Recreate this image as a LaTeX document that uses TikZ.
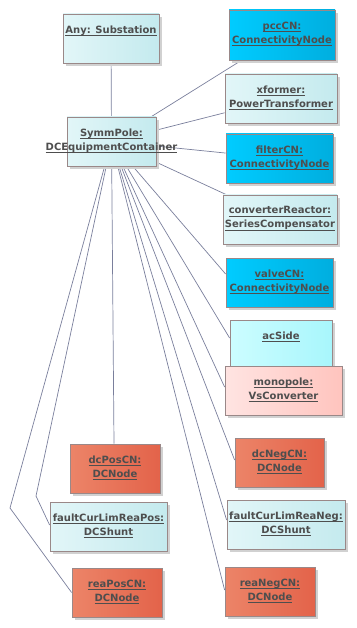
\documentclass[tikz,border=0pt]{standalone}
\usepackage{fontspec}
\setmainfont{DejaVu Sans}
\usetikzlibrary{shadows,backgrounds}

\definecolor{edge}{HTML}{9A8888}
\definecolor{wire}{HTML}{7A7F9C}
\definecolor{ink}{HTML}{4E4E4E}
\definecolor{paleL}{HTML}{E2F6F8}
\definecolor{paleR}{HTML}{C4EAEE}
\definecolor{cnL}{HTML}{00CCFF}
\definecolor{cnR}{HTML}{00AEDF}
\definecolor{aqL}{HTML}{CCFDFF}
\definecolor{aqR}{HTML}{A8F6FC}
\definecolor{pinkL}{HTML}{FFE4E2}
\definecolor{pinkR}{HTML}{FFC4BE}
\definecolor{dcL}{HTML}{EC8468}
\definecolor{dcR}{HTML}{E3634A}

% underlined object name, one line
\newcommand\uln[1]{\hbox{\setbox0\hbox{#1}\rlap{\rule[-2.4pt]{\wd0}{0.8pt}}\box0}}

\tikzset{
  obj/.style={rectangle, draw=edge, line width=0.8pt, inner sep=0pt,
    minimum height=49pt, left color=#1L, right color=#1R,
    drop shadow={shadow xshift=3pt, shadow yshift=-3pt, fill=black!18, opacity=1}},
  objtext/.style={text=ink, font=\fontsize{10}{14}\selectfont\bfseries,
    align=center, inner sep=0pt},
  oneline/.style={objtext, yshift=7.8pt},
  twoline/.style={objtext, yshift=1pt},
  link/.style={draw=wire, line width=0.7pt}
}

\begin{document}
\begin{tikzpicture}[x=1pt, y=-1pt]
\useasboundingbox (0,0) rectangle (356,628);

% objects
\node[obj=pale, minimum width=96pt] (Any) at (111,38.5) {};
\node[oneline] (Any-t) at (Any) {\uln{Any: Substation}};

\node[obj=cn, minimum width=106pt, minimum height=50pt] (pccCN) at (282,35) {};
\node[twoline] (pccCN-t) at (pccCN) {\uln{pccCN:}\\\uln{ConnectivityNode}};

\node[obj=pale, minimum width=112pt] (xformer) at (281,98.5) {};
\node[twoline] (xformer-t) at (xformer) {\uln{xformer:}\\\uln{PowerTransformer}};

\node[obj=pale, minimum width=89pt] (SymmPole) at (111.5,141.5) {};
\node[twoline] (SymmPole-t) at (SymmPole) {\uln{SymmPole:}\\\uln{DCEquipmentContainer}};

\node[obj=cn, minimum width=107pt] (filterCN) at (279.5,158.5) {};
\node[twoline] (filterCN-t) at (filterCN) {\uln{filterCN:}\\\uln{ConnectivityNode}};

\node[obj=pale, minimum width=114pt] (convReactor) at (280,219.5) {};
\node[twoline] (convReactor-t) at (convReactor) {\uln{converterReactor:}\\\uln{SeriesCompensator}};

\node[obj=cn, minimum width=107pt] (valveCN) at (279.5,282.5) {};
\node[twoline] (valveCN-t) at (valveCN) {\uln{valveCN:}\\\uln{ConnectivityNode}};

\node[obj=aq, minimum width=102pt] (acSide) at (281,344.5) {};
\node[oneline] (acSide-t) at (acSide) {\uln{acSide}};

\node[obj=pink, minimum width=117pt] (monopole) at (283.5,390.5) {};
\node[twoline] (monopole-t) at (monopole) {\uln{monopole:}\\\uln{VsConverter}};

\node[obj=dc, minimum width=89pt] (dcNegCN) at (279.5,462.5) {};
\node[twoline] (dcNegCN-t) at (dcNegCN) {\uln{dcNegCN:}\\\uln{DCNode}};

\node[obj=dc, minimum width=90pt] (dcPosCN) at (115,468.5) {};
\node[twoline] (dcPosCN-t) at (dcPosCN) {\uln{dcPosCN:}\\\uln{DCNode}};

\node[obj=pale, minimum width=117pt] (faultPos) at (108.5,526.5) {};
\node[twoline] (faultPos-t) at (faultPos) {\uln{faultCurLimReaPos:}\\\uln{DCShunt}};

\node[obj=pale, minimum width=118pt] (faultNeg) at (286,524.5) {};
\node[twoline] (faultNeg-t) at (faultNeg) {\uln{faultCurLimReaNeg:}\\\uln{DCShunt}};

\node[obj=dc, minimum width=90pt] (reaPosCN) at (117,592.5) {};
\node[twoline] (reaPosCN-t) at (reaPosCN) {\uln{reaPosCN:}\\\uln{DCNode}};

\node[obj=dc, minimum width=90pt] (reaNegCN) at (270,591.5) {};
\node[twoline] (reaNegCN-t) at (reaNegCN) {\uln{reaNegCN:}\\\uln{DCNode}};

% links from the container
\coordinate (bendA) at (36,496);
\coordinate (bendB) at (10,508);
\begin{scope}[on background layer]
  \draw[link] (SymmPole) -- (Any);
  \draw[link] (SymmPole) -- (pccCN);
  \draw[link] (SymmPole) -- (xformer);
  \draw[link] (SymmPole) -- (filterCN);
  \draw[link] (SymmPole) -- (convReactor);
  \draw[link] (SymmPole) -- ([yshift=8.5pt]valveCN.west);
  \draw[link] (SymmPole) -- ([yshift=6.5pt]acSide.west);
  \draw[link] (SymmPole) -- ([yshift=3.5pt]monopole.west);
  \draw[link] (SymmPole) -- ([yshift=2.5pt]dcNegCN.west);
  \draw[link] (SymmPole) -- ([yshift=4.5pt]faultNeg.west);
  \draw[link] (SymmPole) -- ([yshift=1.5pt]reaNegCN.west);
  \draw[link] (SymmPole) -- ([xshift=-1pt]dcPosCN.north);
  \draw[link] (SymmPole) -- (bendA) -- ([yshift=1.5pt]faultPos.west);
  \draw[link] (SymmPole) -- (bendB) -- (reaPosCN.west);
\end{scope}
\end{tikzpicture}
\end{document}
